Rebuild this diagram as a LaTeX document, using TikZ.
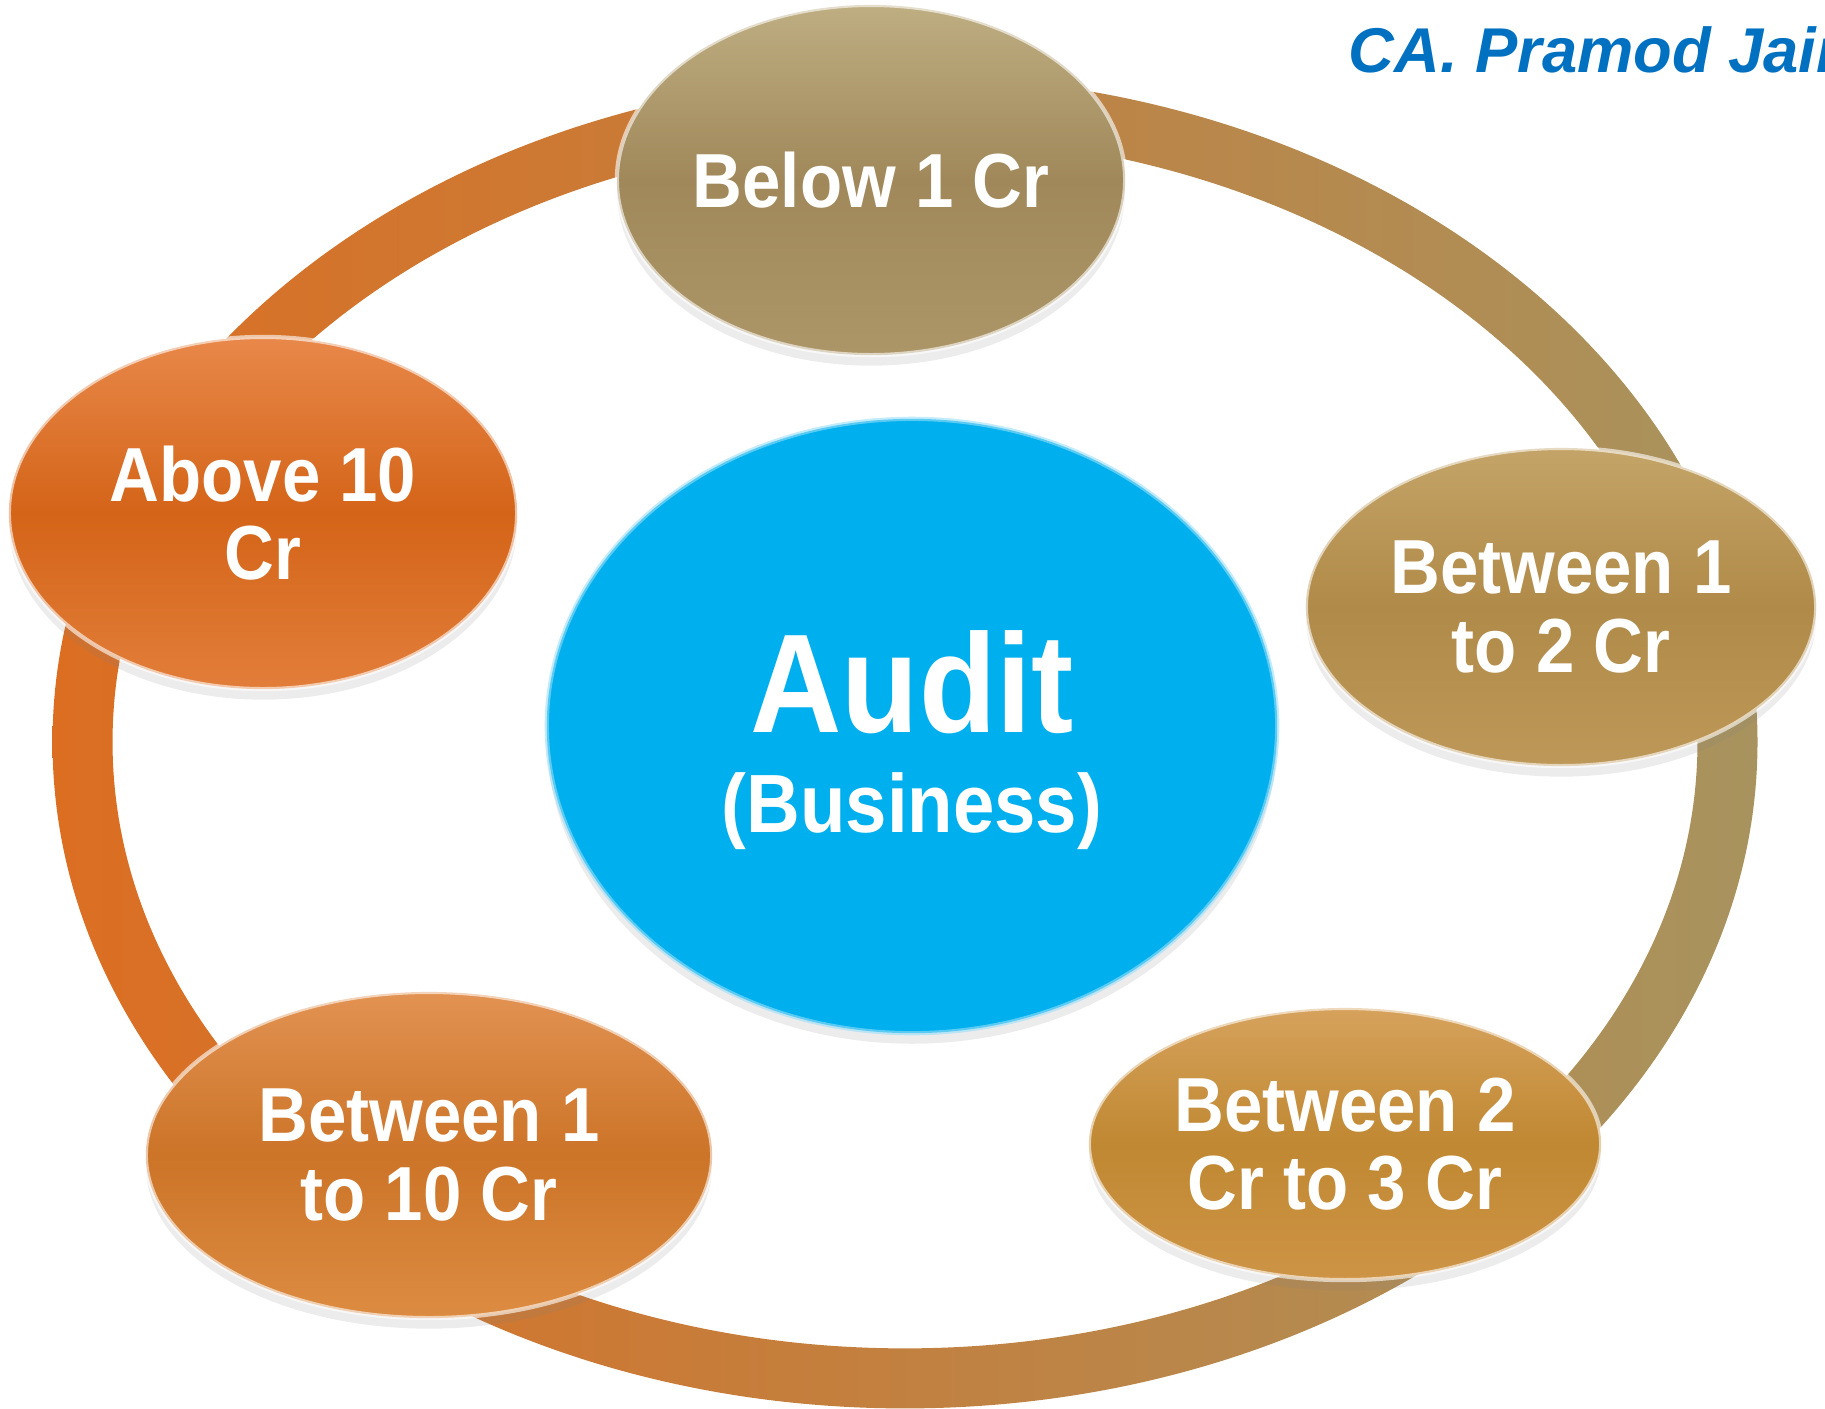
\documentclass[tikz,border=0pt]{standalone}
\usepackage{fontspec}
\setmainfont{Liberation Sans}
\newfontfamily\bubblefont{Liberation Sans}[FakeStretch=0.9]
\usepackage{tikz}
\usetikzlibrary{shapes.geometric,shadows}

\definecolor{ringL}{HTML}{DC6E22}
\definecolor{ringM}{HTML}{C6873A}
\definecolor{ringR}{HTML}{A8935E}
\definecolor{auditblue}{HTML}{00B0EE}
\definecolor{authorblue}{HTML}{0070C0}

\begin{document}
\begin{tikzpicture}[x=0.01cm,y=-0.01cm,
    bubble/.style={ellipse,inner sep=0pt,text=white,align=center,
      font=\bubblefont\fontsize{21.8}{22.2}\selectfont\bfseries,
      draw=white,draw opacity=0.6,line width=1.2pt,
      drop shadow={shadow xshift=0pt,shadow yshift=-3pt,opacity=0.15}}]
      \useasboundingbox (0,0) rectangle (1825,1408);
      % ring behind the bubbles
      \coordinate (ringc) at (905,742);
      \shade[even odd rule,left color=ringL,middle color=ringM,right color=ringR]
        (ringc) ellipse [x radius=8.52cm,y radius=6.66cm]
        (ringc) ellipse [x radius=7.92cm,y radius=6.06cm];
      \node[bubble,minimum width=5.08cm,minimum height=3.50cm,
        top color={rgb,255:red,190;green,174;blue,130},bottom color={rgb,255:red,172;green,150;blue,104},
        middle color={rgb,255:red,160;green,136;blue,90}]
        (below1) at (871,180) {Below 1 Cr};
      \node[bubble,minimum width=5.10cm,minimum height=3.18cm,
        top color={rgb,255:red,196;green,164;blue,104},bottom color={rgb,255:red,190;green,152;blue,88},
        middle color={rgb,255:red,176;green,138;blue,72}]
        (btw12) at (1561,607) {Between 1\\to 2 Cr};
      \node[bubble,minimum width=5.12cm,minimum height=2.72cm,
        top color={rgb,255:red,214;green,162;blue,92},bottom color={rgb,255:red,206;green,148;blue,70},
        middle color={rgb,255:red,192;green,136;blue,50}]
        (btw23) at (1345,1144) {Between 2\\Cr to 3 Cr};
      \node[bubble,minimum width=5.66cm,minimum height=3.26cm,
        top color={rgb,255:red,226;green,146;blue,82},bottom color={rgb,255:red,220;green,140;blue,66},
        middle color={rgb,255:red,204;green,116;blue,40}]
        (btw110) at (429,1155) {Between 1\\to 10 Cr};
      \node[bubble,minimum width=5.08cm,minimum height=3.52cm,
        top color={rgb,255:red,232;green,136;blue,74},bottom color={rgb,255:red,226;green,126;blue,58},
        middle color={rgb,255:red,212;green,100;blue,24}]
        (above10) at (263,513) {Above 10\\Cr};
      \node[bubble,minimum width=7.30cm,minimum height=6.14cm,fill=auditblue,
        draw=cyan!40!white,font=\bubblefont\fontsize{23.5}{28.5}\selectfont\bfseries]
        (audit) at (912,726) {{\fontsize{40}{40}\selectfont\rule{0pt}{37pt}Audit}\\(Business)};
      \node[anchor=base west,inner sep=0pt,text=authorblue,
        font=\fontsize{18}{22}\selectfont\bfseries\itshape]
        (author) at (1348,72) {CA. Pramod Jain};
\end{tikzpicture}
\end{document}
